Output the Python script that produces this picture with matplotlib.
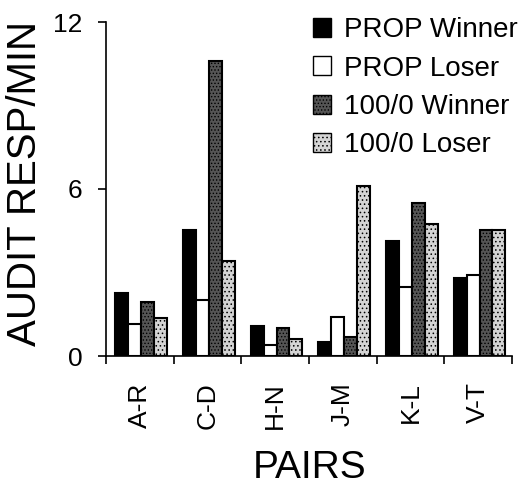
import numpy as np
from matplotlib import pyplot as plt
from matplotlib.patches import Patch

pairs = ["A-R", "C-D", "H-N", "J-M", "K-L", "V-T"]
prop_winner = [2.28, 4.53, 1.09, 0.49, 4.14, 2.82]
prop_loser = [1.14, 2.01, 0.40, 1.41, 2.49, 2.91]
full_winner = [1.95, 10.59, 1.02, 0.69, 5.51, 4.53]
full_loser = [1.36, 3.42, 0.61, 6.12, 4.74, 4.53]
series_names = ["PROP Winner", "PROP Loser", "100/0 Winner", "100/0 Loser"]

plt.rcParams['font.family'] = ['Liberation Sans', 'DejaVu Sans']
plt.rcParams['hatch.linewidth'] = 0.6

fig = plt.figure(figsize=(5.32, 4.87), dpi=100)
ax = fig.add_axes([106 / 532, 1 - 356 / 487, 406 / 532, 334 / 487])

styles = [
    dict(facecolor='black', hatch=None),
    dict(facecolor='white', hatch=None),
    dict(facecolor='#555555', hatch='.....'),
    dict(facecolor='#d4d4d4', hatch='....'),
]
series = [prop_winner, prop_loser, full_winner, full_loser]

x = np.arange(len(pairs))
w = 0.19
for i, (vals, st) in enumerate(zip(series, styles)):
    ax.bar(x + (i - 1.5) * w + 0.02, vals, width=w, facecolor=st['facecolor'],
           edgecolor='black', linewidth=1.5, hatch=st['hatch'])

ax.set_xlim(-0.5, 5.5)
ax.set_ylim(0, 12)
ax.spines['right'].set_visible(False)
ax.spines['top'].set_visible(False)
ax.spines['left'].set_linewidth(1.2)
ax.spines['bottom'].set_linewidth(1.2)

ax.set_yticks([0, 6, 12])
ax.set_yticklabels(["0", "6", "12"], fontsize=19)
ax.tick_params(axis='y', direction='out', length=6, width=1.2, pad=11)

ax.set_xticks(np.arange(-0.5, 6, 1.0))
ax.set_xticklabels([])
ax.tick_params(axis='x', which='major', direction='out', length=6, width=1.2)
ax.set_xticks(x, minor=True)
ax.set_xticklabels(pairs, minor=True, rotation=90, fontsize=19)
ax.tick_params(axis='x', which='minor', length=0, pad=19)

fig.text(25 / 532, 1 - 184 / 487, "AUDIT RESP/MIN", rotation=90,
         ha='center', va='center', fontsize=29)
fig.text(310 / 532, 1 - 478 / 487, "PAIRS", ha='center', va='baseline',
         fontsize=28)

handles = [Patch(facecolor=st['facecolor'], edgecolor='black', hatch=st['hatch'],
                 linewidth=1.0) for st in styles]
fig.legend(handles, series_names, loc='upper left',
           bbox_to_anchor=(313 / 532, 1 - 17 / 487), frameon=False,
           fontsize=20, handlelength=0.65, handleheight=0.65,
           handletextpad=0.45, labelspacing=0.45, borderpad=0, borderaxespad=0)

fig.savefig("out.png", dpi=100)
